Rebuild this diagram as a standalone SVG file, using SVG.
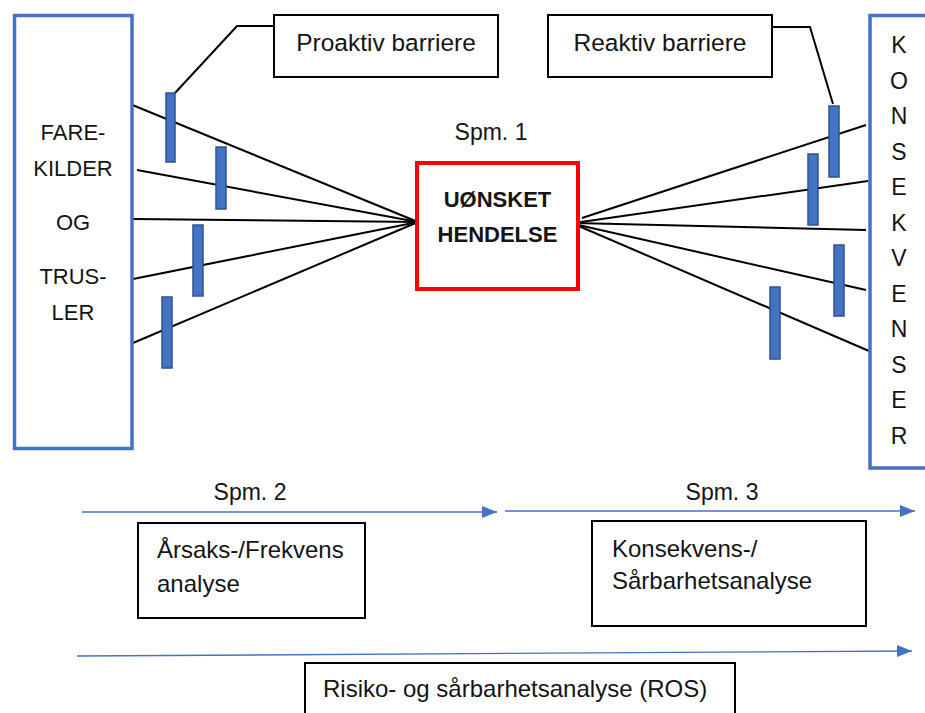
<svg xmlns="http://www.w3.org/2000/svg" width="925" height="713" viewBox="0 0 925 713">
<style>
text{font-family:"Liberation Sans",Arial,sans-serif;fill:#141414}
.big{fill:#fff;stroke:#4472C4;stroke-width:3.5}
.box{fill:#fff;stroke:#000;stroke-width:2}
.bar{fill:#4472C4;stroke:#2F528F;stroke-width:1.5}
.ln{stroke:#000;stroke-width:2;fill:none}
.arr{stroke:#4472C4;stroke-width:1.4;fill:none}
.t24{font-size:24px}
.tb{font-size:24.5px;text-anchor:middle}
.caps{font-size:22px;text-anchor:middle}
.k{font-size:23px;text-anchor:middle}
.spm{font-size:23px;text-anchor:middle}
</style>
<defs>
<marker id="ah" markerUnits="userSpaceOnUse" markerWidth="16" markerHeight="14" refX="15" refY="7" orient="auto">
<path d="M0,1 L15,7 L0,13 Z" fill="#4472C4"/>
</marker>
</defs>
<rect width="925" height="713" fill="#fff"/>

<g id="connectors">
<line class="ln" x1="130" y1="104" x2="418" y2="222"/>
<line class="ln" x1="137" y1="170" x2="418" y2="222"/>
<line class="ln" x1="133" y1="219" x2="418" y2="222"/>
<line class="ln" x1="133" y1="279" x2="418" y2="222"/>
<line class="ln" x1="133" y1="343" x2="418" y2="222"/>
<line class="ln" x1="582" y1="218" x2="866" y2="125"/>
<line class="ln" x1="574" y1="223" x2="868" y2="181"/>
<line class="ln" x1="574" y1="223" x2="866" y2="230"/>
<line class="ln" x1="574" y1="224" x2="866" y2="290"/>
<line class="ln" x1="574" y1="224" x2="869" y2="351"/>
<polyline class="ln" points="175,93 237,26 274,26"/>
<polyline class="ln" points="772,27 810,27 833,104"/>
<line class="arr" x1="82" y1="512" x2="497" y2="512" marker-end="url(#ah)"/>
<line class="arr" x1="505" y1="511" x2="915" y2="511" marker-end="url(#ah)"/>
<line class="arr" x1="77" y1="656" x2="912" y2="651" marker-end="url(#ah)"/>
</g>

<g id="farekilder">
<rect class="big" x="14.5" y="15.5" width="117.5" height="433"/>
<text class="caps" x="73" y="140">FARE-</text>
<text class="caps" x="73" y="176">KILDER</text>
<text class="caps" x="73" y="230">OG</text>
<text class="caps" x="73" y="284">TRUS-</text>
<text class="caps" x="73" y="320">LER</text>
</g>

<g id="konsekvenser">
<rect class="big" x="870" y="15.5" width="100" height="452.5"/>
<text class="k" x="899" y="53">K</text>
<text class="k" x="899" y="88.5">O</text>
<text class="k" x="899" y="124">N</text>
<text class="k" x="899" y="159.5">S</text>
<text class="k" x="899" y="195">E</text>
<text class="k" x="899" y="230.5">K</text>
<text class="k" x="899" y="266">V</text>
<text class="k" x="899" y="301.5">E</text>
<text class="k" x="899" y="337">N</text>
<text class="k" x="899" y="372.5">S</text>
<text class="k" x="899" y="408">E</text>
<text class="k" x="899" y="443.5">R</text>
</g>

<g id="barriers">
<rect class="bar" x="166" y="93" width="9" height="69"/>
<rect class="bar" x="216" y="147" width="10" height="62"/>
<rect class="bar" x="193" y="225" width="10" height="71"/>
<rect class="bar" x="162" y="297" width="10" height="71"/>
<rect class="bar" x="829" y="106" width="10" height="71"/>
<rect class="bar" x="808" y="154" width="10" height="71"/>
<rect class="bar" x="834" y="245" width="10" height="71"/>
<rect class="bar" x="770" y="287" width="10" height="72"/>
</g>

<g id="proaktiv">
<rect class="box" x="274" y="15" width="224" height="62"/>
<text class="tb" x="386" y="51">Proaktiv barriere</text>
</g>

<g id="reaktiv">
<rect class="box" x="548" y="15" width="224" height="62"/>
<text class="tb" x="660" y="51">Reaktiv barriere</text>
</g>

<g id="spm1">
<text class="spm" x="491" y="140">Spm. 1</text>
</g>

<g id="hendelse">
<rect x="417" y="163" width="161" height="126" fill="#fff" stroke="#FF0000" stroke-width="4"/>
<text x="497.5" y="207" font-size="22" font-weight="bold" text-anchor="middle">UØNSKET</text>
<text x="497.5" y="242" font-size="22" font-weight="bold" text-anchor="middle">HENDELSE</text>
</g>

<g id="spm2">
<text class="spm" x="250" y="500">Spm. 2</text>
</g>

<g id="spm3">
<text class="spm" x="722" y="500">Spm. 3</text>
</g>

<g id="aarsak">
<rect class="box" x="138" y="523" width="227" height="95"/>
<text class="t24" x="157" y="558">Årsaks-/Frekvens</text>
<text class="t24" x="157" y="592">analyse</text>
</g>

<g id="konsekvens">
<rect class="box" x="592" y="521" width="274" height="105"/>
<text class="t24" x="612" y="557">Konsekvens-/</text>
<text class="t24" x="612" y="589">Sårbarhetsanalyse</text>
</g>

<g id="ros">
<rect class="box" x="305" y="663" width="430" height="70"/>
<text class="t24" x="323" y="697">Risiko- og sårbarhetsanalyse (ROS)</text>
</g>
</svg>
